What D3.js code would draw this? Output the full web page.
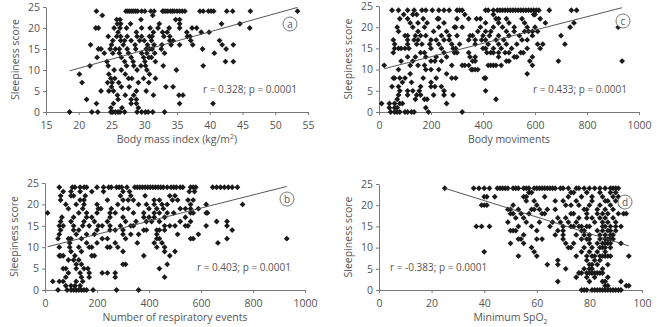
<!DOCTYPE html>
<html lang="en">
  <meta charset="utf-8">
  <style>
    body { margin: 0; background: #fff; }
    text { font-family: "Open Sans", sans-serif; fill: #555; }
  </style>
  <body>
    <svg width="658" height="327"></svg>

    <script src="https://d3js.org/d3.v7.min.js"></script>
    <script>
    // sleepiness score (rows) -> x values
    let bmiRows = [
      [24, [22.7, 27.2, 27.5, 27.8, 28.1, 28.4, 28.7, 29.0, 29.6, 30.1, 31.0, 31.5, 32.8, 33.0, 33.3, 33.6, 34.0, 34.3, 34.6, 35.0, 35.4, 35.8, 36.2, 38.5, 39.0, 39.8, 40.2, 40.6, 42.6, 43.5, 46.2, 53.4]],
      [23, [23.6, 31.3]],
      [22, [25.8, 26.3, 29.5, 34.8, 35.4]],
      [21, [25.9, 26.4, 27.9, 32.3, 35.4, 41.8, 44.6]],
      [20, [22.6, 23.0, 25.4, 26.3, 27.3, 29.6, 30.9, 32.1, 33.8, 35.4, 37.3, 38.0, 46.1]],
      [19, [26.0, 28.8, 31.4, 32.8, 33.5, 36.5, 38.7, 39.9]],
      [18, [24.5, 25.8, 26.4, 27.4, 28.9, 29.6, 30.8, 31.2, 33.0, 33.9, 36.6, 37.0]],
      [17, [25.2, 26.4, 27.0, 28.0, 29.3, 30.0, 31.1, 33.9, 34.4, 37.1, 41.5]],
      [16, [21.8, 25.0, 26.8, 28.6, 30.5, 31.5, 32.7, 34.1, 35.4, 37.4, 41.9, 43.6]],
      [15, [23.0, 23.4, 24.8, 25.6, 26.2, 27.4, 28.7, 30.3, 30.8, 31.2, 32.6, 38.9, 42.5]],
      [14, [23.9, 25.2, 26.2, 27.6, 29.6, 30.4, 31.6, 33.1, 40.7]],
      [13, [22.8, 26.5, 28.0, 29.9, 30.7, 31.1]],
      [12, [24.3, 27.0, 28.3, 30.1, 31.7, 42.4, 43.6]],
      [11, [21.7, 24.5, 27.3, 28.4, 29.5, 30.2, 32.9, 39.0]],
      [10, [25.4, 26.5, 28.9, 30.4, 34.9]],
      [9, [20.1, 24.6, 27.1, 30.8]],
      [8, [24.9, 25.5, 27.6, 28.1, 29.9, 31.7]],
      [7, [20.5, 24.4, 25.1, 26.1, 29.1, 30.7]],
      [6, [25.0, 26.5, 27.7, 33.3, 34.4]],
      [5, [23.4, 24.6, 25.3, 28.8, 30.3]],
      [4, [25.9, 27.1, 28.4, 31.4, 35.3, 35.9]],
      [3, [21.2, 26.0, 28.0, 28.8]],
      [2, [22.7, 25.3, 28.0, 28.8, 35.4, 40.5]],
      [1, [24.9, 26.6, 29.1]],
      [0, [18.6, 22.0, 22.9, 24.9, 25.2, 25.6, 26.0, 26.3, 27.0, 28.9, 29.6, 30.2, 30.6, 31.3, 33.1]]
    ]

    let movRows = [
      [24, [50, 75, 110, 135, 165, 180, 205, 230, 250, 270, 300, 310, 320, 410, 420, 440, 455, 465, 475, 485, 495, 505, 515, 525, 535, 545, 555, 565, 575, 585, 595, 605, 615, 655, 740, 760]],
      [23, [95, 130, 145, 330, 440, 595, 600]],
      [22, [80, 110, 170, 225, 230, 300, 345, 375, 390, 450, 460, 490, 550, 620]],
      [21, [120, 150, 185, 250, 410, 460, 500, 560, 640, 750]],
      [20, [70, 130, 175, 230, 290, 295, 320, 390, 440, 475, 520, 570, 600, 735, 920]],
      [19, [75, 150, 210, 260, 380, 410, 430, 490, 520, 560, 575, 590, 610]],
      [18, [100, 110, 140, 160, 180, 240, 270, 300, 350, 360, 400, 425, 460, 500, 540, 590, 700]],
      [17, [55, 110, 135, 150, 200, 220, 250, 270, 345, 370, 395, 410, 450, 480, 550, 570]],
      [16, [60, 110, 145, 165, 195, 230, 280, 310, 370, 420, 460, 490, 530, 610, 630, 715]],
      [15, [60, 75, 85, 100, 115, 200, 240, 285, 295, 400, 410, 440, 470, 510, 570, 620]],
      [14, [55, 160, 175, 250, 290, 300, 345, 415, 430, 440, 460, 485, 500, 545, 555]],
      [13, [110, 140, 180, 220, 260, 350, 370, 460, 520, 530, 590]],
      [12, [85, 130, 200, 215, 240, 360, 370, 490, 500, 580, 690, 935]],
      [11, [20, 120, 150, 175, 280, 320, 330, 345, 420, 430, 440, 450, 470, 590]],
      [10, [75, 180, 200, 230, 355, 360, 370, 380]],
      [9, [120, 260, 570]],
      [8, [55, 60, 80, 100, 170, 220, 280, 295, 405, 410]],
      [7, [90, 125, 200]],
      [6, [50, 75, 160, 200, 215, 240]],
      [5, [80, 110, 130, 155, 250, 410]],
      [4, [75, 110, 145, 160, 210, 250, 285]],
      [3, [70, 140, 175, 185, 450]],
      [2, [10, 40, 60, 80, 90, 260]],
      [1, [40, 60, 70, 180]],
      [0, [45, 60, 70, 80, 100, 110, 125, 135, 190, 320]]
    ]

    let respRows = [
      [24, [55, 105, 115, 135, 150, 160, 200, 225, 245, 255, 275, 285, 295, 315, 345, 355, 365, 375, 385, 395, 405, 415, 425, 435, 445, 455, 470, 485, 495, 505, 520, 530, 560, 570, 580, 645, 660, 675, 690, 705, 720, 740]],
      [23, [70, 100, 135, 180, 225, 300, 325, 555, 575]],
      [22, [60, 100, 110, 155, 290, 330, 385, 480, 500]],
      [21, [60, 135, 150, 240, 300, 320, 340, 420, 440, 490, 510, 550, 570]],
      [20, [80, 120, 150, 200, 280, 360, 390, 420, 450, 470, 560, 620, 760]],
      [19, [90, 145, 205, 215, 255, 300, 320, 400, 430, 455, 520, 540, 560, 590]],
      [18, [10, 130, 160, 200, 250, 270, 340, 380, 420, 440, 470, 495, 560, 570, 620, 625]],
      [17, [65, 110, 160, 180, 250, 300, 380, 400, 420, 460, 540]],
      [16, [60, 100, 150, 190, 240, 310, 350, 390, 410, 440, 520, 560, 660, 700]],
      [15, [55, 70, 110, 145, 170, 205, 220, 250, 290, 330, 340, 460, 480, 500, 540, 550, 620, 700]],
      [14, [60, 110, 130, 200, 250, 270, 300, 380, 390, 430, 440, 460, 720]],
      [13, [55, 120, 160, 190, 300, 330, 360, 430, 510, 590]],
      [12, [50, 90, 100, 140, 220, 240, 310, 430, 440, 560, 570, 700, 930]],
      [11, [95, 160, 200, 270, 355, 420, 450, 665]],
      [10, [55, 95, 130, 170, 180, 240, 250, 280, 430, 460]],
      [9, [100, 140, 300, 460, 500]],
      [8, [55, 60, 70, 115, 180, 190, 380, 480]],
      [7, [90, 110, 130]],
      [6, [120, 140, 300, 310, 470]],
      [5, [70, 80, 120, 150, 165, 440]],
      [4, [90, 135, 170, 220, 240, 270]],
      [3, [80, 140, 170, 270, 460]],
      [2, [30, 55, 70, 120, 145]],
      [1, [80, 100, 115, 135]],
      [0, [50, 85, 100, 110, 120, 130, 140, 150, 160, 185, 275, 360]]
    ]

    let spo2Rows = [
      [24, [25, 36, 38, 40, 42, 45, 46, 47, 48, 49, 51, 52, 53, 55, 56, 57, 59, 60, 61, 62, 63, 64, 65, 66, 67, 69, 70, 72, 75, 76, 78, 80, 82, 84, 86, 88, 89, 90, 91]],
      [23, [57, 58, 73, 74, 79, 84, 88, 90]],
      [22, [40, 41, 44, 55, 56, 63, 72, 77, 81, 85, 89, 91]],
      [21, [56, 59, 67, 70, 75, 81, 86, 87, 90]],
      [20, [39, 40, 41, 51, 60, 71, 73, 76, 80, 84, 88, 92]],
      [19, [49, 50, 53, 58, 59, 61, 64, 67, 78, 79, 83, 86, 89]],
      [18, [50, 51, 54, 57, 62, 63, 73, 74, 79, 83, 85, 87, 91, 93, 94]],
      [17, [52, 55, 68, 71, 76, 79, 81, 84, 86, 89]],
      [16, [49, 56, 61, 66, 69, 72, 75, 82, 85, 87, 90]],
      [15, [37, 39, 42, 53, 58, 65, 70, 73, 74, 76, 77, 79, 80, 85, 86, 88, 90, 92]],
      [14, [50, 51, 52, 60, 68, 70, 77, 78, 83, 85, 87, 88, 90]],
      [13, [55, 67, 70, 75, 78, 80, 84, 86, 88, 89]],
      [12, [53, 54, 60, 62, 70, 77, 79, 80, 84, 86, 87, 88, 89]],
      [11, [50, 55, 71, 74, 80, 83, 85, 86, 87, 88, 92]],
      [10, [58, 72, 73, 78, 81, 84, 85, 86, 88]],
      [9, [40, 59, 77, 80, 83, 86]],
      [8, [53, 60, 75, 79, 81, 82, 84, 85, 86, 87, 88, 95]],
      [7, [68, 79, 82, 84]],
      [6, [64, 68, 80, 81, 83, 87]],
      [5, [71, 78, 80, 81, 85]],
      [4, [76, 77, 79, 80, 81, 82, 83, 84, 85]],
      [3, [75, 79, 82, 87]],
      [2, [68, 80, 85, 86, 92]],
      [1, [86, 87, 94, 95]],
      [0, [77, 78, 79, 81, 82, 83, 84, 85, 86, 87, 88, 89, 90, 91, 92]]
    ]

    // regression line endpoints [x, score]
    let bmiFit = [[18.6, 9.8], [53.4, 24.9]]
    let movFit = [[20, 10.2], [935, 24.6]]
    let respFit = [[10, 10.1], [930, 24.2]]
    let spo2Fit = [[25, 24], [95, 10.4]]

    let scoreTicks = [0, 5, 10, 15, 20, 25]
    let bmiTicks = [15, 20, 25, 30, 35, 40, 45, 50, 55]
    let countTicks = [0, 200, 400, 600, 800, 1000]
    let spo2Ticks = [0, 20, 40, 60, 80, 100]

    let panels = [
      {rows: bmiRows, fit: bmiFit, xTicks: bmiTicks, domain: [15, 55],
       left: 46, right: 308, top: 7, bottom: 112,
       xTitle: 'Body mass index (kg/m', sup: '2', tail: ')', stat: 'r = 0.328; p = 0.0001', statX: 203,
       tag: 'a', tagX: 290, tagY: 24},
      {rows: movRows, fit: movFit, xTicks: countTicks, domain: [0, 1000],
       left: 379, right: 639, top: 6, bottom: 112,
       xTitle: 'Body moviments', stat: 'r = 0.433; p = 0.0001', statX: 533,
       tag: 'c', tagX: 623, tagY: 21},
      {rows: respRows, fit: respFit, xTicks: countTicks, domain: [0, 1000],
       left: 45, right: 305, top: 183, bottom: 290,
       xTitle: 'Number of respiratory events', stat: 'r = 0.403; p = 0.0001', statX: 197,
       tag: 'b', tagX: 287, tagY: 199},
      {rows: spo2Rows, fit: spo2Fit, xTicks: spo2Ticks, domain: [0, 100],
       left: 379, right: 642, top: 184, bottom: 290,
       xTitle: 'Minimum SpO', sub: '2', stat: 'r = -0.383; p = 0.0001', statX: 390,
       tag: 'd', tagX: 625, tagY: 202}
    ]

    let svg = d3.select('svg')
    let marker = d3.symbol().type(d3.symbolSquare).size(17)

    panels.forEach(p => {
      let x = d3.scaleLinear().domain(p.domain).range([p.left, p.right])
      let y = d3.scaleLinear().domain([0, 25]).range([p.bottom, p.top])
      let g = svg.append('g')

      // axes
      let gx = g.append('g').attr('transform', `translate(0,${p.bottom})`)
        .call(d3.axisBottom(x).tickValues(p.xTicks).tickFormat(d3.format('d')).tickSize(3).tickSizeOuter(0))
      let gy = g.append('g').attr('transform', `translate(${p.left},0)`)
        .call(d3.axisLeft(y).tickValues(scoreTicks).tickSize(3).tickSizeOuter(0))
      ;[gx, gy].forEach(a => {
        a.selectAll('path, line').attr('stroke', '#777')
        a.selectAll('text').attr('font-size', 10.5).attr('fill', '#555')
          .style('font-family', '"Open Sans", sans-serif')
      })
      gx.selectAll('text').attr('dy', '1em')

      // points
      let pts = []
      p.rows.forEach(r => r[1].forEach(v => pts.push([v, r[0]])))
      g.append('g').selectAll('path')
        .data(pts).enter()
        .append('path')
        .attr('d', marker)
        .attr('transform', d => `translate(${x(d[0])},${y(d[1])}) rotate(45)`)
        .attr('fill', '#1a1a1a')

      // regression line
      g.append('line')
        .attr('x1', x(p.fit[0][0])).attr('y1', y(p.fit[0][1]))
        .attr('x2', x(p.fit[1][0])).attr('y2', y(p.fit[1][1]))
        .attr('stroke', '#444').attr('stroke-width', 0.9)

      // titles
      let xt = g.append('text')
        .attr('x', (p.left + p.right) / 2)
        .attr('y', p.bottom + 31)
        .attr('text-anchor', 'middle')
        .attr('font-size', 10.5)
        .text(p.xTitle)
      if (p.sub) xt.append('tspan').attr('font-size', 7).attr('dy', 3).text(p.sub)
      if (p.sup) {
        xt.append('tspan').attr('font-size', 7).attr('dy', -4).text(p.sup)
        xt.append('tspan').attr('dy', 4).text(p.tail)
      }

      g.append('text')
        .attr('transform', `translate(${p.left - 27},${(p.top + p.bottom) / 2}) rotate(-90)`)
        .attr('text-anchor', 'middle')
        .attr('font-size', 10.5)
        .text('Sleepiness score')

      g.append('text')
        .attr('x', p.statX)
        .attr('y', y(4.5))
        .attr('font-size', 10)
        .text(p.stat)

      // circled panel letter
      g.append('circle')
        .attr('cx', p.tagX).attr('cy', p.tagY).attr('r', 7)
        .attr('fill', '#fff').attr('stroke', '#555').attr('stroke-width', 0.8)
      g.append('text')
        .attr('x', p.tagX).attr('y', p.tagY + 3.5)
        .attr('text-anchor', 'middle')
        .attr('font-size', 10)
        .text(p.tag)
    })
    </script>
</body>
</html>
